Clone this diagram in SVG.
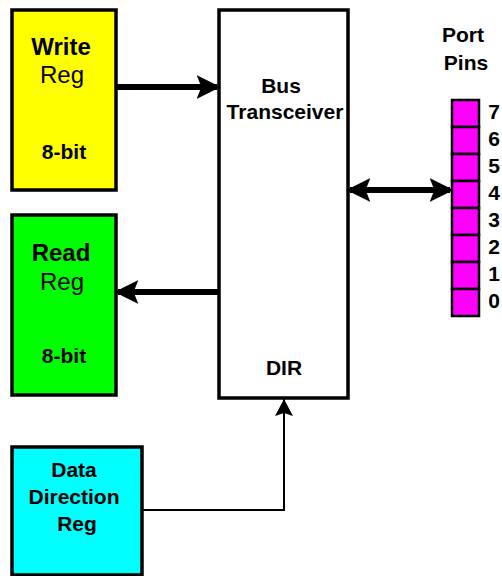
<svg xmlns="http://www.w3.org/2000/svg" width="502" height="576" viewBox="0 0 502 576">
<style>
.box{stroke:#000;stroke-width:3.5}
.t{font-family:"Liberation Sans",Arial,sans-serif;font-size:24px;text-anchor:middle;fill:#000}
.b{font-weight:bold}
.s{font-family:"Liberation Sans",Arial,sans-serif;font-size:21px;font-weight:bold;text-anchor:middle;fill:#000}
.pin{fill:#ff00ff;stroke:#000;stroke-width:2.5}
</style>
<defs>
<marker id="ah" markerWidth="4" markerHeight="4" refX="3.4" refY="2" orient="auto-start-reverse" markerUnits="strokeWidth" viewBox="0 0 4 4">
<path d="M0,0 L4,2 L0,4 L0.8,2 Z" fill="#000"/>
</marker>
<marker id="ah2" markerWidth="17" markerHeight="18" refX="17" refY="9" orient="auto" markerUnits="userSpaceOnUse" viewBox="0 0 17 18">
<path d="M0,0 L17,9 L0,18 L3,9 Z" fill="#000"/>
</marker>
</defs>
<g id="write-reg">
<rect class="box" x="12" y="10" width="104" height="180" fill="#ffff00"/>
<text class="t b" x="61" y="55">Write</text>
<text class="t" x="62" y="83">Reg</text>
<text class="s" x="64" y="159">8-bit</text>
</g>
<g id="read-reg">
<rect class="box" x="12" y="215" width="104" height="180" fill="#00ff00"/>
<text class="t b" x="61" y="261">Read</text>
<text class="t" x="62" y="290">Reg</text>
<text class="s" x="64" y="363">8-bit</text>
</g>
<g id="bus-transceiver">
<rect class="box" x="219" y="10" width="129" height="388" fill="#ffffff"/>
<text class="s" x="281" y="93">Bus</text>
<text class="s" x="285" y="119">Transceiver</text>
<text class="s" x="284" y="375">DIR</text>
</g>
<g id="ddr">
<rect class="box" x="12" y="447" width="130" height="128" fill="#00ffff"/>
<text class="s" x="74" y="477">Data</text>
<text class="s" x="74" y="504">Direction</text>
<text class="s" x="77" y="531">Reg</text>
</g>
<g id="port-pins">
<text class="s" x="463" y="42">Port</text>
<text class="s" x="466" y="70">Pins</text>
<rect class="pin" x="452" y="100" width="27" height="27"/>
<rect class="pin" x="452" y="127" width="27" height="27"/>
<rect class="pin" x="452" y="154" width="27" height="27"/>
<rect class="pin" x="452" y="181" width="27" height="27"/>
<rect class="pin" x="452" y="208" width="27" height="27"/>
<rect class="pin" x="452" y="235" width="27" height="27"/>
<rect class="pin" x="452" y="262" width="27" height="27"/>
<rect class="pin" x="452" y="289" width="27" height="27"/>
<text class="s" x="494" y="119">7</text>
<text class="s" x="494" y="146">6</text>
<text class="s" x="494" y="173">5</text>
<text class="s" x="494" y="200">4</text>
<text class="s" x="494" y="227">3</text>
<text class="s" x="494" y="254">2</text>
<text class="s" x="494" y="281">1</text>
<text class="s" x="494" y="308">0</text>
</g>
<g id="connectors" fill="none" stroke="#000">
<path d="M116,87 L217,87" stroke-width="6" marker-end="url(#ah)"/>
<path d="M218,292 L118,292" stroke-width="6" marker-end="url(#ah)"/>
<path d="M350,190 L450,190" stroke-width="6" marker-start="url(#ah)" marker-end="url(#ah)"/>
<path d="M142,510 L284,510 L284,399" stroke-width="2" marker-end="url(#ah2)"/>
</g>
</svg>
